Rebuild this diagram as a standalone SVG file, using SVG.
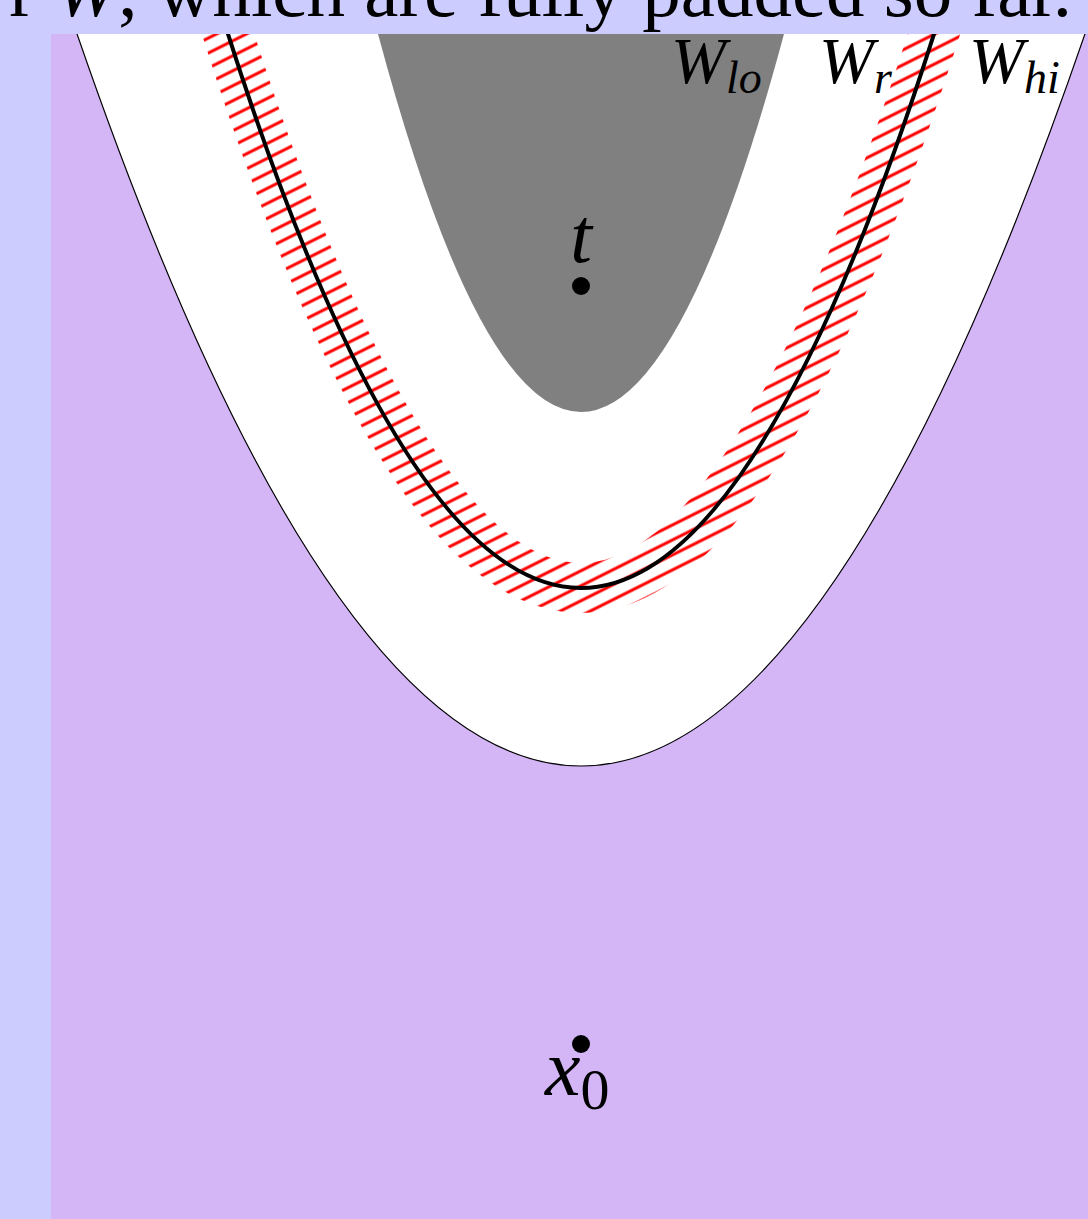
<svg xmlns="http://www.w3.org/2000/svg" width="1088" height="1219" viewBox="0 0 1088 1219">
<style>
.serif{font-family:"Liberation Serif","Times New Roman",serif;fill:#000}
.it{font-style:italic}
</style>
<defs>
<clipPath id="area"><rect x="51" y="34" width="1037" height="1185"/></clipPath>
<pattern id="hatch" patternUnits="userSpaceOnUse" width="20" height="13.4" patternTransform="rotate(-26.6)">
<line x1="-1" y1="6.7" x2="21" y2="6.7" stroke="#ff0000" stroke-width="3"/>
</pattern>
</defs>
<rect width="1088" height="1219" fill="#ccccff"/>
<text class="serif" x="1072" y="16" font-size="77" text-anchor="end">r <tspan class="it">W</tspan>, which are fully padded so far.</text>
<rect x="51" y="34" width="1037" height="1185" fill="#d4b6f7"/>
<g id="regions" clip-path="url(#area)">
<path id="outer" d="M58.8,-20 Q581,1552 1103.2,-20 Z" fill="#ffffff" stroke="#000" stroke-width="1.2"/>
<path id="inner" d="M364,-20 Q581,844 798,-20 Z" fill="#808080"/>
<path id="band" d="M211.2,-20 Q581,1196 950.8,-20" fill="none" stroke="url(#hatch)" stroke-width="50"/>
<path id="curve" d="M211.2,-20 Q581,1196 950.8,-20" fill="none" stroke="#000" stroke-width="4"/>
</g>
<g id="labels" class="serif it">
<text x="671" y="83" font-size="66">W<tspan font-size="46" dy="10">lo</tspan></text>
<text x="819" y="83" font-size="66">W<tspan font-size="46" dy="10">r</tspan></text>
<text x="969" y="83" font-size="66">W<tspan font-size="46" dy="10">hi</tspan></text>
</g>
<g id="t">
<circle cx="581" cy="286" r="9" fill="#000"/>
<text class="serif it" x="581" y="262" font-size="78" text-anchor="middle">t</text>
</g>
<g id="x0">
<circle cx="581" cy="1044" r="9" fill="#000"/>
<text class="serif it" x="545" y="1095" font-size="80">x<tspan class="serif" font-style="normal" font-size="58" dy="14">0</tspan></text>
</g>
</svg>
